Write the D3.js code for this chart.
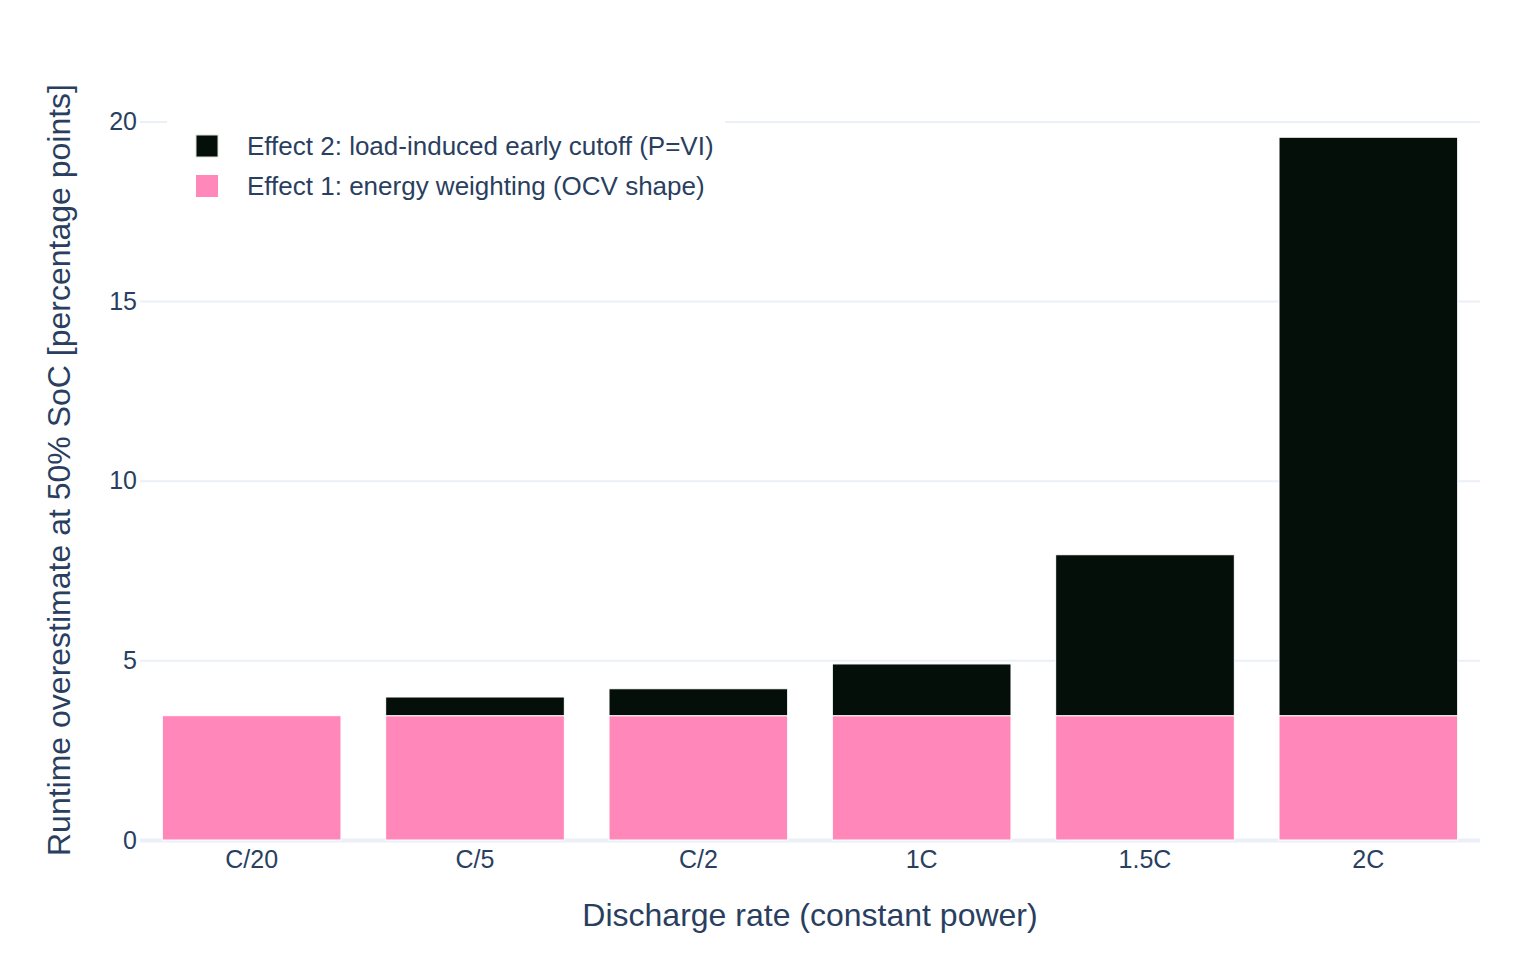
<!DOCTYPE html>
<html>
<head>
<meta charset="utf-8">
<script src="https://cdn.jsdelivr.net/npm/d3@7"></script>
<style>
  body { margin: 0; background: #fff; }
  svg { font-family: "Liberation Sans", Arial, sans-serif; }
</style>
</head>
<body>
<div id="chart"></div>
<script>
'use strict';

// categories and stacked series (percentage points)
var categories = [ 'C/20', 'C/5', 'C/2', '1C', '1.5C', '2C' ];
var effect1 = [ 3.46, 3.46, 3.46, 3.46, 3.46, 3.46 ];
var effect2 = [ 0.0, 0.52, 0.75, 1.44, 4.48, 16.10 ];
var yTicks = [ 0, 5, 10, 15, 20 ];

var seriesNames = {
  effect1: 'Effect 1: energy weighting (OCV shape)',
  effect2: 'Effect 2: load-induced early cutoff (P=VI)'
};
var colors = { effect1: '#ff87b9', effect2: '#050f0a' };

var baseWidth = 1520,
    baseHeight = 960,
    margin = { top: 100, right: 40, bottom: 120, left: 140 };

var width = baseWidth - margin.left - margin.right,
    height = baseHeight - margin.top - margin.bottom;

var textColor = '#2a3f5f',
    gridColor = '#ebf0f8';

var rows = categories.map( function( c, i ) {
  return { cat: c, effect1: effect1[i], effect2: effect2[i] };
} );

var stacked = d3.stack().keys( [ 'effect1', 'effect2' ] )( rows );

var x = d3.scaleBand()
    .domain( categories )
    .range( [ 0, width ] )
    .paddingInner( 0.2 )
    .paddingOuter( 0.1 );

// plotly-like autorange: a little headroom above the tallest stack
var ymax = d3.max( rows, function( d ) { return d.effect1 + d.effect2; } ) * 1.053;

var y = d3.scaleLinear()
    .domain( [ 0, ymax ] )
    .range( [ height, 0 ] );

var svg = d3.select( '#chart' )
  .append( 'svg' )
    .attr( 'width', baseWidth )
    .attr( 'height', baseHeight )
  .append( 'g' )
    .attr( 'transform', 'translate(' + margin.left + ',' + margin.top + ')' );

// grid lines (Y axis with long ticks)
var yAxis = svg.append( 'g' )
  .call( d3.axisLeft( y )
    .tickValues( yTicks )
    .tickSize( -width )
    .tickPadding( 3 )
    .tickFormat( d3.format( 'd' ) ) );
yAxis.select( '.domain' ).remove();
yAxis.selectAll( '.tick line' )
  .attr( 'stroke', gridColor )
  .attr( 'stroke-width', 2 )
  .filter( function( d ) { return d === 0; } )
    .attr( 'stroke-width', 4 );
yAxis.selectAll( '.tick text' )
  .attr( 'fill', textColor )
  .style( 'font-size', '25px' );

// bars
svg.append( 'g' )
  .selectAll( 'g' )
  .data( stacked )
  .join( 'g' )
    .attr( 'fill', function( s ) { return colors[s.key]; } )
  .selectAll( 'rect' )
  .data( function( s ) { return s; } )
  .join( 'rect' )
    .attr( 'x', function( d ) { return x( d.data.cat ); } )
    .attr( 'width', x.bandwidth() )
    .attr( 'y', function( d ) { return y( d[1] ); } )
    .attr( 'height', function( d ) { return y( d[0] ) - y( d[1] ); } )
    .attr( 'stroke', '#fff' )
    .attr( 'stroke-width', 1 );

// X axis labels
var xAxis = svg.append( 'g' )
  .attr( 'transform', 'translate(0,' + height + ')' )
  .call( d3.axisBottom( x ).tickSize( 0 ).tickPadding( 10 ) );
xAxis.select( '.domain' ).remove();
xAxis.selectAll( '.tick text' )
  .attr( 'fill', textColor )
  .style( 'font-size', '25px' );

// axis titles
svg.append( 'text' )
  .attr( 'x', width / 2 )
  .attr( 'y', height + 86 )
  .attr( 'text-anchor', 'middle' )
  .attr( 'fill', textColor )
  .style( 'font-size', '32px' )
  .text( 'Discharge rate (constant power)' );

svg.append( 'text' )
  .attr( 'transform', 'rotate(-90)' )
  .attr( 'x', -height / 2 )
  .attr( 'y', -70 )
  .attr( 'text-anchor', 'middle' )
  .attr( 'fill', textColor )
  .style( 'font-size', '32px' )
  .text( 'Runtime overestimate at 50% SoC [percentage points]' );

// legend (stack order reversed, like the source)
var legend = svg.append( 'g' )
  .attr( 'transform', 'translate(27,4)' );
legend.append( 'rect' )
  .attr( 'width', 558 )
  .attr( 'height', 106 )
  .attr( 'fill', '#fff' );

[ 'effect2', 'effect1' ].forEach( function( key, i ) {
  var item = legend.append( 'g' )
    .attr( 'transform', 'translate(0,' + ( 42 + i * 40 ) + ')' );
  item.append( 'rect' )
    .attr( 'x', 29 )
    .attr( 'y', -11 )
    .attr( 'width', 22 )
    .attr( 'height', 22 )
    .attr( 'fill', colors[key] )
    .attr( 'stroke', key === 'effect2' ? '#e0e0e0' : 'none' )
    .attr( 'stroke-width', 1 );
  item.append( 'text' )
    .attr( 'x', 80 )
    .attr( 'y', 9 )
    .attr( 'fill', textColor )
    .style( 'font-size', '26px' )
    .text( seriesNames[key] );
} );
</script>
</body>
</html>
